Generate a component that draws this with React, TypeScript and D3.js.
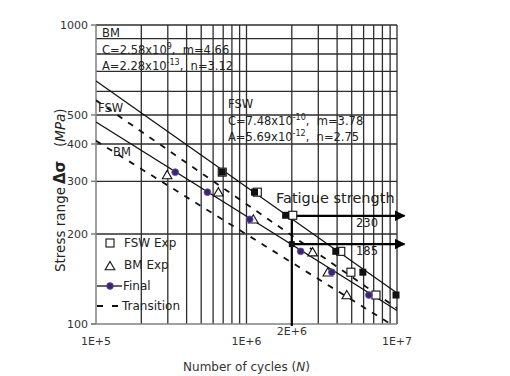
import React, { useEffect, useRef } from 'react';
import * as d3 from 'd3';

// S-N data: cycles to failure (N) and stress range (MPa)
const fswExpN = [6.9e5, 1.18e6, 2.03e6, 4.23e6, 4.94e6, 7.25e6];
const fswExpS = [322, 276, 231, 175, 149, 125];
const fswFinalN = [6.9e5, 1.13e6, 1.82e6, 3.92e6, 5.93e6, 9.85e6];
const fswFinalS = [322, 276, 231, 175, 149, 125];
const bmExpN = [2.97e5, 6.5e5, 1.11e6, 2.75e6, 3.47e6, 4.64e6];
const bmExpS = [315, 276, 224, 174, 149, 125];
const bmFinalN = [3.36e5, 5.5e5, 1.05e6, 2.29e6, 3.69e6, 6.5e6];
const bmFinalS = [322, 276, 224, 175, 149, 125];

// fitted curves, [N, S] at both ends
const fswFinalLine: [number, number][] = [[1e5, 650], [1e7, 127]];
const fswTransLine: [number, number][] = [[1e5, 560], [1e7, 113]];
const bmFinalLine: [number, number][] = [[1e5, 474], [1e7, 111]];
const bmTransLine: [number, number][] = [[1e5, 410], [1e7, 97]];

// fatigue strength at 2E+6 cycles
const refCycles = 2e6;
const fatigueStrength = [230, 185];

const yTicks = [100, 200, 300, 400, 500, 1000];
const xTicks = [1e5, 1e6, 1e7];
const xTickLabels = ['1E+5', '1E+6', '1E+7'];

const bmFormula = [
  { base: 'C=2.58x10', exp: '9', tail: ',  m=4.66' },
  { base: 'A=2.28x10', exp: '-13', tail: ',  n=3.12' },
];
const fswFormula = [
  { base: 'C=7.48x10', exp: '-10', tail: ',  m=3.78' },
  { base: 'A=5.69x10', exp: '-12', tail: ',  n=2.75' },
];

const W = 510;
const H = 376;
const PLOT = { left: 96, right: 397, top: 25, bottom: 324 };
const FONT = 'DejaVu Sans, sans-serif';
const PURPLE = '#3b2470';

const SNChart = () => {
  const svgRef = useRef<SVGSVGElement | null>(null);

  useEffect(() => {
    if (!svgRef.current) return;
    const svg = d3.select(svgRef.current);
    svg.selectAll('*').remove();
    svg.style('font-family', FONT);

    const x = d3.scaleLog().domain([1e5, 1e7]).range([PLOT.left, PLOT.right]);
    const y = d3.scaleLog().domain([100, 1000]).range([PLOT.bottom, PLOT.top]);

    const defs = svg.append('defs');
    defs.append('clipPath').attr('id', 'plot-clip')
      .append('rect')
      .attr('x', PLOT.left).attr('y', PLOT.top)
      .attr('width', PLOT.right - PLOT.left).attr('height', PLOT.bottom - PLOT.top);
    defs.append('marker')
      .attr('id', 'arrow-head')
      .attr('viewBox', '0 0 10 10')
      .attr('refX', 9).attr('refY', 5)
      .attr('markerWidth', 5).attr('markerHeight', 5)
      .attr('orient', 'auto')
      .append('path').attr('d', 'M0,0 L10,5 L0,10 Z').attr('fill', '#000');

    // grid
    const gridN: number[] = [];
    [1e5, 1e6].forEach(d => d3.range(2, 11).forEach(k => gridN.push(k * d)));
    const gridS = d3.range(200, 1001, 100);

    const grid = svg.append('g');
    grid.selectAll('.vg').data(gridN).enter().append('line')
      .attr('x1', d => x(d)).attr('x2', d => x(d))
      .attr('y1', PLOT.top).attr('y2', PLOT.bottom)
      .attr('stroke', '#2e2e2e').attr('stroke-width', 1.3);
    grid.selectAll('.hg').data(gridS).enter().append('line')
      .attr('x1', PLOT.left).attr('x2', PLOT.right)
      .attr('y1', d => y(d)).attr('y2', d => y(d))
      .attr('stroke', '#2e2e2e').attr('stroke-width', 1.3);

    // axes
    const axes = svg.append('g');
    axes.append('line')
      .attr('x1', PLOT.left).attr('x2', PLOT.left)
      .attr('y1', PLOT.top).attr('y2', PLOT.bottom)
      .attr('stroke', '#808080').attr('stroke-width', 1.5);
    axes.append('line')
      .attr('x1', PLOT.left - 5).attr('x2', PLOT.right)
      .attr('y1', PLOT.bottom).attr('y2', PLOT.bottom)
      .attr('stroke', '#808080').attr('stroke-width', 1.5);
    axes.selectAll('.yt').data(yTicks).enter().append('line')
      .attr('x1', PLOT.left - 5).attr('x2', PLOT.left)
      .attr('y1', d => y(d)).attr('y2', d => y(d))
      .attr('stroke', '#808080').attr('stroke-width', 1.5);
    axes.selectAll('.yl').data(yTicks).enter().append('text')
      .attr('x', PLOT.left - 8).attr('y', d => y(d) + 4)
      .attr('text-anchor', 'end').attr('font-size', 11).attr('fill', '#333')
      .text(d => String(d));
    axes.selectAll('.xl').data(xTicks).enter().append('text')
      .attr('x', d => x(d)).attr('y', 345)
      .attr('text-anchor', 'middle').attr('font-size', 11).attr('fill', '#333')
      .text((d, i) => xTickLabels[i]);
    axes.append('text')
      .attr('x', x(refCycles)).attr('y', 335)
      .attr('text-anchor', 'middle').attr('font-size', 11).attr('fill', '#333')
      .text('2E+6');

    const xTitle = axes.append('text')
      .attr('x', x(1e6)).attr('y', 371)
      .attr('text-anchor', 'middle').attr('font-size', 12).attr('fill', '#333');
    xTitle.append('tspan').text('Number of cycles (');
    xTitle.append('tspan').attr('font-style', 'italic').text('N');
    xTitle.append('tspan').text(')');

    // rotated title, pieces laid out upwards from the bottom
    const yTitle = axes.append('g').attr('transform', 'translate(65,272) rotate(-90)').attr('fill', '#222');
    yTitle.append('text').attr('x', 0).attr('font-size', 13.5).text('Stress range');
    yTitle.append('text').attr('x', 88).attr('font-size', 15).attr('font-weight', 'bold').text('Δσ');
    const mpa = yTitle.append('text').attr('x', 125).attr('font-size', 13.5);
    mpa.append('tspan').text('(');
    mpa.append('tspan').attr('font-style', 'italic').text('MPa');
    mpa.append('tspan').text(')');

    // curves
    const line = d3.line<[number, number]>().x(d => x(d[0])).y(d => y(d[1]));
    const curves = svg.append('g').attr('clip-path', 'url(#plot-clip)');
    [fswFinalLine, bmFinalLine].forEach(pts => {
      curves.append('path').attr('d', line(pts))
        .attr('fill', 'none').attr('stroke', '#111').attr('stroke-width', 1.3);
    });
    [fswTransLine, bmTransLine].forEach(pts => {
      curves.append('path').attr('d', line(pts))
        .attr('fill', 'none').attr('stroke', '#111').attr('stroke-width', 1.8)
        .attr('stroke-dasharray', '6,7');
    });

    // fatigue strength markers at 2E+6
    const fs = svg.append('g');
    fs.append('line')
      .attr('x1', x(refCycles)).attr('x2', x(refCycles))
      .attr('y1', y(fatigueStrength[0])).attr('y2', PLOT.bottom + 2)
      .attr('stroke', '#000').attr('stroke-width', 2.2);
    fatigueStrength.forEach(s => {
      fs.append('line')
        .attr('x1', x(refCycles)).attr('x2', x(1.12e7))
        .attr('y1', y(s)).attr('y2', y(s))
        .attr('stroke', '#000').attr('stroke-width', 2.2)
        .attr('marker-end', 'url(#arrow-head)');
      fs.append('text')
        .attr('x', 356).attr('y', y(s) + 11)
        .attr('font-size', 11.5).attr('fill', '#222')
        .text(String(s));
    });
    fs.append('text')
      .attr('x', 276).attr('y', 203)
      .attr('font-size', 14.5).attr('fill', '#222')
      .text('Fatigue strength');
    fs.append('rect')
      .attr('x', x(refCycles) - 3).attr('y', y(fatigueStrength[1]) - 3)
      .attr('width', 6).attr('height', 6)
      .attr('fill', '#111');

    // points
    const pts = svg.append('g');
    const sq = 8;
    pts.selectAll('.fe').data(fswExpN).enter().append('rect')
      .attr('x', d => x(d) - sq / 2).attr('y', (d, i) => y(fswExpS[i]) - sq / 2)
      .attr('width', sq).attr('height', sq)
      .attr('fill', '#fff').attr('stroke', '#111').attr('stroke-width', 1.1);
    pts.selectAll('.ff').data(fswFinalN).enter().append('rect')
      .attr('x', d => x(d) - 3.5).attr('y', (d, i) => y(fswFinalS[i]) - 3.5)
      .attr('width', 7).attr('height', 7)
      .attr('fill', '#111');
    const tri = d3.symbol().type(d3.symbolTriangle).size(40);
    pts.selectAll('.be').data(bmExpN).enter().append('path')
      .attr('d', tri)
      .attr('transform', (d, i) => `translate(${x(d)},${y(bmExpS[i]) + 1})`)
      .attr('fill', '#fff').attr('stroke', '#111').attr('stroke-width', 1.1);
    pts.selectAll('.bf').data(bmFinalN).enter().append('circle')
      .attr('cx', d => x(d)).attr('cy', (d, i) => y(bmFinalS[i])).attr('r', 3.4)
      .attr('fill', PURPLE).attr('stroke', '#6d4fa8').attr('stroke-width', 0.8);

    // annotations
    const ann = svg.append('g').attr('fill', '#222');
    const formula = (x0: number, y0: number, f: { base: string; exp: string; tail: string }) => {
      const t = ann.append('text')
        .attr('x', x0).attr('y', y0).attr('font-size', 11.5)
        .attr('xml:space', 'preserve').style('white-space', 'pre');
      t.append('tspan').text(f.base);
      t.append('tspan').attr('font-size', 8).attr('dy', -5).text(f.exp);
      t.append('tspan').attr('dy', 5).text(f.tail);
    };
    ann.append('text').attr('x', 102).attr('y', 37).attr('font-size', 11.5).text('BM');
    formula(102, 54, bmFormula[0]);
    formula(102, 70, bmFormula[1]);
    ann.append('text').attr('x', 228).attr('y', 108).attr('font-size', 11.5).text('FSW');
    formula(228, 125, fswFormula[0]);
    formula(228, 141, fswFormula[1]);
    ann.append('text').attr('x', 98).attr('y', 112).attr('font-size', 11.5).text('FSW');
    ann.append('text').attr('x', 113).attr('y', 156).attr('font-size', 11.5).text('BM');

    // legend
    const lg = svg.append('g').attr('font-size', 12).attr('fill', '#222');
    lg.append('rect').attr('x', 106).attr('y', 239).attr('width', sq).attr('height', sq)
      .attr('fill', '#fff').attr('stroke', '#111').attr('stroke-width', 1.1);
    lg.append('text').attr('x', 124).attr('y', 247).text('FSW Exp');
    lg.append('path').attr('d', tri).attr('transform', 'translate(110,267)')
      .attr('fill', '#fff').attr('stroke', '#111').attr('stroke-width', 1.1);
    lg.append('text').attr('x', 124).attr('y', 269).text('BM Exp');
    lg.append('line').attr('x1', 97).attr('x2', 122).attr('y1', 286).attr('y2', 286)
      .attr('stroke', '#111').attr('stroke-width', 1.3);
    lg.append('circle').attr('cx', 110).attr('cy', 286).attr('r', 3.4)
      .attr('fill', PURPLE).attr('stroke', '#6d4fa8').attr('stroke-width', 0.8);
    lg.append('text').attr('x', 123).attr('y', 290).text('Final');
    lg.append('line').attr('x1', 97).attr('x2', 121).attr('y1', 306).attr('y2', 306)
      .attr('stroke', '#111').attr('stroke-width', 1.8).attr('stroke-dasharray', '6,9');
    lg.append('text').attr('x', 122).attr('y', 310).text('Transition');
  }, []);

  return (
    <svg
      ref={svgRef}
      width={W}
      height={H}
      style={{ position: 'absolute', left: 0, top: 0, background: '#fff' }}
    />
  );
};

export default function App() {
  return <SNChart />;
}
